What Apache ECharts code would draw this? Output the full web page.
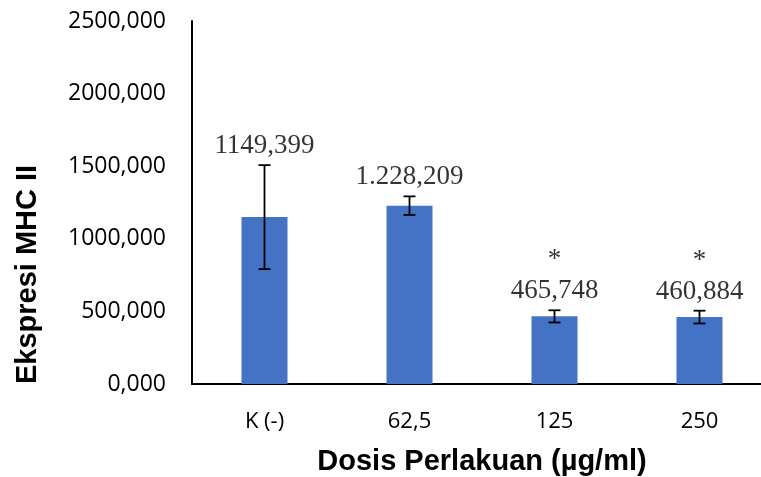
<!DOCTYPE html>
<html>
<head>
<meta charset="utf-8">
<script src="https://cdn.jsdelivr.net/npm/echarts@6/dist/echarts.min.js"></script>
<style>html,body{margin:0;padding:0;background:#fff}#c{width:761px;height:477px}</style>
</head>
<body>
<div id="c"></div>
<script>
var categories = ['K (-)', '62,5', '125', '250'];
var means = [1149.399, 1228.209, 465.748, 460.884];
var errors = [358, 64, 42, 44];
var valueLabels = ['1149,399', '1.228,209', '465,748', '460,884'];
var stars = ['', '', '*', '*'];
var yTicks = [0, 500, 1000, 1500, 2000, 2500];
var yTickLabels = ['0,000', '500,000', '1000,000', '1500,000', '2000,000', '2500,000'];

var chart = echarts.init(document.getElementById('c'), null, {renderer: 'canvas'});

var errData = categories.map(function (c, i) { return [i, means[i] - errors[i], means[i] + errors[i]]; });
var topData = categories.map(function (c, i) { return [i, means[i] + errors[i]]; });

chart.setOption({
  animation: false,
  backgroundColor: '#fff',
  grid: {left: 192, top: 21, width: 580, height: 363, containLabel: false, outerBoundsMode: 'none'},
  xAxis: {
    type: 'category',
    data: categories,
    axisLine: {show: true, lineStyle: {color: '#000', width: 2}},
    axisTick: {show: false},
    axisLabel: {color: '#000', fontFamily: 'Open Sans', fontSize: 22, margin: 27},
    name: 'Dosis Perlakuan (µg/ml)',
    nameLocation: 'middle',
    nameGap: 63,
    nameTextStyle: {color: '#000', fontFamily: 'Liberation Sans', fontWeight: 'bold', fontSize: 29}
  },
  yAxis: {
    type: 'value',
    min: 0, max: 2500, interval: 500,
    axisLine: {show: true, lineStyle: {color: '#000', width: 2}},
    axisTick: {show: false},
    splitLine: {show: false},
    axisLabel: {
      color: '#000', fontFamily: 'Open Sans', fontSize: 23, margin: 26,
      formatter: function (v) { var k = yTicks.indexOf(v); return k >= 0 ? yTickLabels[k] : ''; }
    },
    name: 'Ekspresi MHC II',
    nameLocation: 'middle',
    nameGap: 150,
    nameTextStyle: {color: '#000', fontFamily: 'Liberation Sans', fontWeight: 'bold', fontSize: 29, padding: [0, 144, 0, 0]}
  },
  series: [
    {
      type: 'bar',
      data: means,
      barWidth: 46,
      itemStyle: {color: '#4472C4'}
    },
    {
      type: 'custom',
      data: errData,
      z: 10,
      renderItem: function (params, api) {
        var x = api.value(0);
        var lo = api.coord([x, api.value(1)]);
        var hi = api.coord([x, api.value(2)]);
        var hw = 6;
        var st = {stroke: '#000', lineWidth: 1.8};
        return {
          type: 'group',
          children: [
            {type: 'line', shape: {x1: hi[0], y1: hi[1], x2: lo[0], y2: lo[1]}, style: st},
            {type: 'line', shape: {x1: hi[0] - hw, y1: hi[1], x2: hi[0] + hw, y2: hi[1]}, style: st},
            {type: 'line', shape: {x1: lo[0] - hw, y1: lo[1], x2: lo[0] + hw, y2: lo[1]}, style: st}
          ]
        };
      }
    },
    {
      type: 'scatter',
      data: topData,
      symbolSize: 0,
      silent: true,
      label: {
        show: true,
        position: 'top',
        distance: 5,
        formatter: function (p) {
          var i = p.dataIndex;
          return (stars[i] ? '{s|' + stars[i] + '}\n' : '') + '{v|' + valueLabels[i] + '}';
        },
        rich: {
          s: {fontFamily: 'Liberation Serif', fontSize: 27, color: '#000', lineHeight: 34, align: 'center'},
          v: {fontFamily: 'Liberation Serif', fontSize: 27, color: '#000', lineHeight: 28, align: 'center'}
        }
      }
    }
  ]
});
</script>
</body>
</html>
